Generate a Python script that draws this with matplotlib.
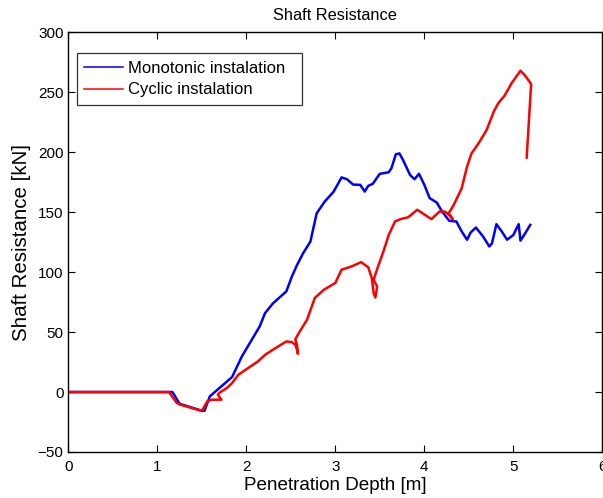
import matplotlib

matplotlib.use("Agg")
import matplotlib.pyplot as plt

plt.rcParams["font.family"] = ["Liberation Sans", "DejaVu Sans"]

# 單調貫入
mono_depth = [0.00, 1.17, 1.25, 1.50, 1.53, 1.59, 1.84, 1.95, 2.15, 2.21, 2.30,
              2.45, 2.51, 2.57, 2.64, 2.72, 2.79, 2.88, 2.98, 3.07, 3.13, 3.20,
              3.28, 3.33, 3.37, 3.42, 3.50, 3.60, 3.63, 3.68, 3.72, 3.76, 3.84,
              3.89, 3.94, 4.00, 4.06, 4.14, 4.20, 4.28, 4.36, 4.42, 4.48, 4.52,
              4.58, 4.66, 4.73, 4.76, 4.81, 4.87, 4.93, 5.00, 5.06, 5.08, 5.13,
              5.19]
mono_force = [0.0, 0.0, -9.8, -15.6, -15.6, -3.6, 12.5, 29.7, 54.7, 65.8, 74.0,
              84.0, 96.0, 106.0, 116.0, 125.5, 149.0, 158.8, 167.0, 179.0,
              177.5, 173.0, 172.8, 167.2, 172.0, 173.6, 182.0, 183.3, 186.6,
              198.3, 199.0, 193.6, 181.0, 177.5, 182.0, 172.8, 161.7, 158.0,
              150.5, 142.8, 142.2, 133.9, 127.0, 133.0, 137.2, 129.7, 121.4,
              124.0, 140.0, 133.9, 127.0, 131.0, 140.0, 126.3, 132.0, 139.4]

# 循環貫入
cyc_depth = [0.00, 1.13, 1.22, 1.26, 1.35, 1.48, 1.51, 1.56, 1.61, 1.72, 1.68,
             1.70, 1.78, 1.84, 1.91, 2.02, 2.13, 2.21, 2.34, 2.45, 2.51, 2.55,
             2.57, 2.58, 2.57, 2.55, 2.60, 2.68, 2.77, 2.87, 3.00, 3.07, 3.18,
             3.29, 3.37, 3.41, 3.43, 3.45, 3.47, 3.43, 3.48, 3.54, 3.60, 3.67,
             3.73, 3.82, 3.92, 3.99, 4.08, 4.17, 4.23, 4.29, 4.32, 4.27, 4.33,
             4.42, 4.48, 4.53, 4.61, 4.70, 4.78, 4.83, 4.90, 4.98, 5.08, 5.12,
             5.20, 5.15]
cyc_force = [0.0, 0.0, -9.2, -10.6, -12.5, -15.3, -14.7, -7.8, -6.4, -6.4, -2.2,
             -0.5, 3.3, 7.5, 14.4, 20.0, 25.5, 31.0, 37.2, 42.2, 41.7, 39.4,
             35.2, 31.9, 39.0, 44.0, 50.5, 60.0, 78.5, 85.2, 91.0, 102.0, 104.7,
             108.3, 104.0, 95.0, 82.5, 78.8, 88.0, 93.6, 104.7, 117.2, 131.0,
             142.2, 144.2, 145.8, 152.0, 148.6, 144.2, 150.5, 150.5, 147.0,
             144.2, 148.6, 156.0, 170.0, 188.0, 199.0, 207.5, 218.6, 233.8,
             240.8, 247.0, 257.5, 268.0, 265.0, 257.0, 195.5]

fig = plt.figure(figsize=(6.03, 4.98), dpi=100)
ax = fig.add_axes([0.1133, 0.0924, 0.8856, 0.8427])

ax.plot(mono_depth, mono_force, color="#0000ff", linewidth=1.8,
        label="Monotonic instalation")
ax.plot(cyc_depth, cyc_force, color="#ff0000", linewidth=1.8,
        label="Cyclic instalation")

ax.set_xlim(0, 6)
ax.set_ylim(-50, 300)
ax.set_xticks(range(0, 7))
ax.set_yticks(range(-50, 301, 50))
ax.tick_params(axis="both", direction="in", top=True, right=True,
               labelsize=11, length=4.8, width=0.8)
ax.tick_params(axis="y", pad=3.4)
ax.tick_params(axis="x", pad=5.8)
for sp in ax.spines.values():
    sp.set_linewidth(1.0)

ax.set_title("Shaft Resistance", fontsize=11.8, pad=9)
ax.set_xlabel("Penetration Depth [m]", fontsize=13.6, labelpad=2)
ax.set_ylabel("Shaft Resistance [kN]", fontsize=14.8, labelpad=5)

# 圖例右側留白較寬
leg = ax.legend(["Monotonic instalation  ", "Cyclic instalation"],
                loc="upper left", bbox_to_anchor=(0.0157, 0.95),
                borderaxespad=0, fontsize=12, frameon=True, fancybox=False,
                edgecolor="black", handlelength=2.3, handletextpad=0.3,
                labelspacing=0.4, borderpad=0.45)
leg.get_frame().set_linewidth(0.9)
for line in leg.get_lines():
    line.set_linewidth(1.1)

plt.savefig("out.png", dpi=100)
